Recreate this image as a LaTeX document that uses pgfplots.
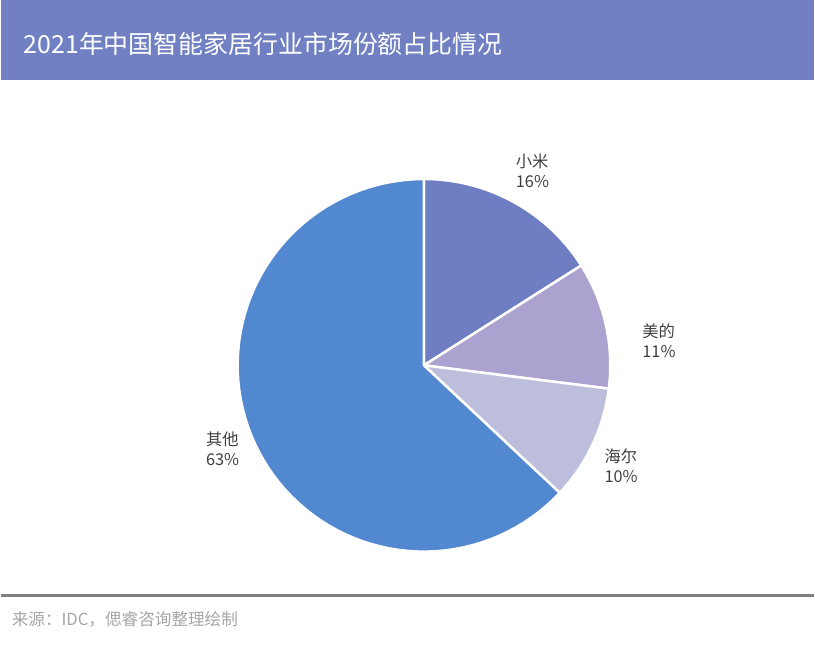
\documentclass[border=0pt]{standalone}
\usepackage{fontspec}
\setmainfont{Noto Sans CJK SC}
\usepackage{pgfplots}
\pgfplotsset{compat=1.18}

\definecolor{barc}{HTML}{7080C3}
\definecolor{xiaomi}{HTML}{6F7EC3}
\definecolor{midea}{HTML}{ABA2CF}
\definecolor{haier}{HTML}{BCBEDC}
\definecolor{other}{HTML}{5288CF}
\definecolor{lbl}{HTML}{404040}
\definecolor{src}{HTML}{A6A6A6}

\tikzset{lab/.style={text=lbl, anchor=west, align=left, inner sep=0,
  font=\fontsize{9.8pt}{12pt}\selectfont}}

% color, cumulative share before the slice, share (in %)
\newcommand\pieslice[3]{%
  \addplot[fill=#1, draw=white, line width=1.5pt, line join=round,
    domain={90-3.6*#2}:{90-3.6*(#2+#3)}, samples=80, variable=\t]
    ({cos(\t)}, {sin(\t)}) -- (axis cs:0,0) -- cycle;}

\begin{document}
\begin{tikzpicture}
\fill[white] (0,0) rectangle (489pt,390pt);
\fill[barc] (0,342pt) rectangle (489pt,390pt);
\node[anchor=west, inner sep=0, text=white, font=\fontsize{15pt}{17pt}\selectfont]
  at (13.2pt,363.6pt) {2021年中国智能家居行业市场份额占比情况};

\begin{axis}[
    at={(254.4pt,170pt)}, anchor=center,
    scale only axis, width=224.4pt, height=224.4pt,
    xmin=-1, xmax=1, ymin=-1, ymax=1,
    hide axis, clip=false,
]
\pieslice{xiaomi}{0}{16}
\pieslice{midea}{16}{11}
\pieslice{haier}{27}{10}
\pieslice{other}{37}{63}
\node[lab] at (axis cs:0.492,1.043) {小米\\16\%};
\node[lab] at (axis cs:1.171,0.134) {美的\\11\%};
\node[lab] at (axis cs:0.968,-0.540) {海尔\\10\%};
\node[lab] at (axis cs:-1.171,-0.449) {其他\\63\%};
\end{axis}

\draw[color=gray, line width=1.8pt] (0,31.2pt) -- (489pt,31.2pt);
\node[anchor=west, inner sep=0, text=src, font=\fontsize{10pt}{12pt}\selectfont]
  at (6pt,16.8pt) {来源：IDC，偲睿咨询整理绘制};
\end{tikzpicture}
\end{document}
